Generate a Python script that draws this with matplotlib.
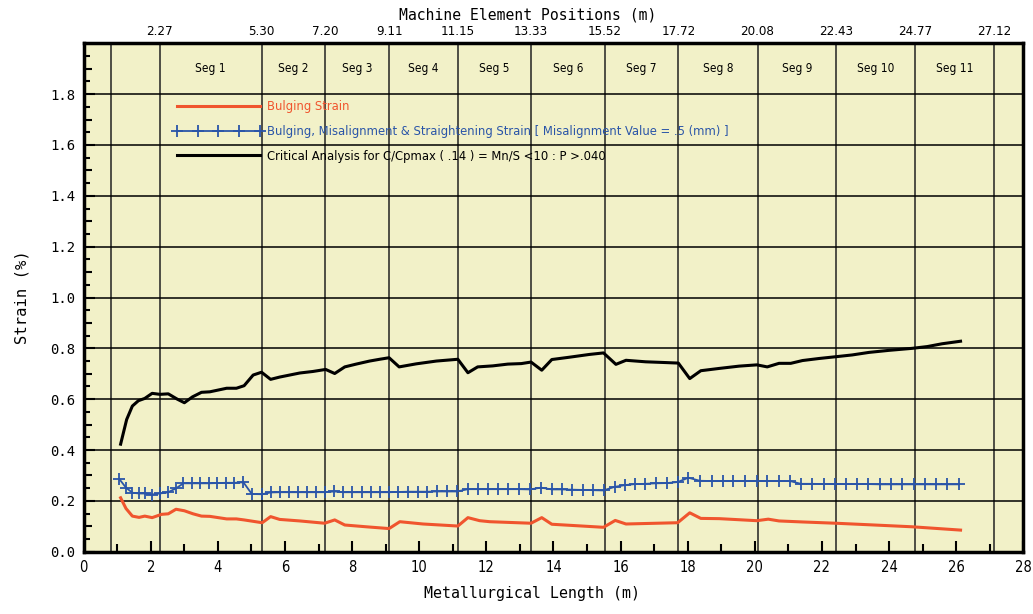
import numpy as np
import matplotlib.pyplot as plt
from matplotlib.ticker import MultipleLocator, FixedLocator

# machine element positions (m) along the strand, first one is unlabelled
machine_pos = [0.8, 2.27, 5.30, 7.20, 9.11, 11.15, 13.33, 15.52, 17.72, 20.08, 22.43, 24.77, 27.12]
machine_labels = ['', '2.27', '5.30', '7.20', '9.11', '11.15', '13.33', '15.52', '17.72',
                  '20.08', '22.43', '24.77', '27.12']
seg_names = ['Seg 1', 'Seg 2', 'Seg 3', 'Seg 4', 'Seg 5', 'Seg 6', 'Seg 7', 'Seg 8',
             'Seg 9', 'Seg 10', 'Seg 11']

# bulging strain
red_x = [1.10, 1.26, 1.45, 1.65, 1.82, 2.04, 2.32, 2.52, 2.75, 3.00, 3.26, 3.51, 3.76, 4.26,
         4.55, 4.78, 5.32, 5.57, 5.84, 6.44, 7.18, 7.48, 7.78, 8.42, 9.10, 9.42, 10.11, 11.15,
         11.45, 11.80, 12.10, 13.33, 13.65, 13.95, 15.49, 15.84, 16.16, 17.70, 18.06, 18.39,
         18.94, 20.06, 20.40, 20.72, 21.42, 22.41, 23.40, 24.69, 26.13]
red_y = [0.212, 0.170, 0.140, 0.135, 0.140, 0.134, 0.147, 0.149, 0.167, 0.161, 0.149, 0.140,
         0.139, 0.129, 0.129, 0.125, 0.114, 0.138, 0.127, 0.121, 0.112, 0.125, 0.105, 0.098,
         0.091, 0.118, 0.109, 0.101, 0.134, 0.122, 0.118, 0.112, 0.134, 0.108, 0.096, 0.123,
         0.109, 0.114, 0.153, 0.131, 0.130, 0.122, 0.128, 0.121, 0.117, 0.112, 0.106, 0.098, 0.085]

# bulging + misalignment + straightening strain
blu_x = [1.06, 1.26, 1.45, 1.65, 1.82, 2.03, 2.27, 2.50, 2.75, 2.97, 3.22, 3.46, 3.73, 3.98,
         4.24, 4.49, 4.76, 5.01, 5.31, 5.57, 5.84, 6.11, 6.39, 6.66, 6.92, 7.19, 7.47, 7.74,
         8.01, 8.29, 8.56, 8.82, 9.10, 9.38, 9.66, 9.96, 10.24, 10.52, 10.82, 11.13, 11.45,
         11.74, 12.06, 12.35, 12.65, 12.98, 13.30, 13.63, 13.95, 14.25, 14.55, 14.87, 15.19,
         15.49, 15.82, 16.13, 16.43, 16.72, 17.05, 17.38, 17.70, 18.02, 18.36, 18.71, 19.04,
         19.36, 19.70, 20.05, 20.37, 20.72, 21.05, 21.37, 21.71, 22.06, 22.39, 22.73, 23.05,
         23.38, 23.72, 24.06, 24.39, 24.74, 25.07, 25.40, 25.73, 26.08]
blu_y = [0.286, 0.252, 0.232, 0.229, 0.229, 0.225, 0.229, 0.233, 0.249, 0.269, 0.269, 0.269,
         0.269, 0.270, 0.271, 0.271, 0.273, 0.227, 0.226, 0.233, 0.234, 0.234, 0.234, 0.234,
         0.234, 0.234, 0.237, 0.234, 0.234, 0.234, 0.234, 0.234, 0.234, 0.235, 0.236, 0.236,
         0.236, 0.237, 0.237, 0.237, 0.246, 0.246, 0.246, 0.246, 0.246, 0.246, 0.245, 0.252,
         0.245, 0.245, 0.244, 0.243, 0.242, 0.241, 0.255, 0.262, 0.266, 0.267, 0.269, 0.270,
         0.274, 0.291, 0.279, 0.278, 0.278, 0.278, 0.278, 0.278, 0.278, 0.278, 0.278, 0.267,
         0.267, 0.266, 0.266, 0.266, 0.266, 0.266, 0.265, 0.265, 0.265, 0.265, 0.265, 0.265,
         0.265, 0.265]

# critical analysis line
blk_x = [1.10, 1.28, 1.45, 1.63, 1.82, 2.04, 2.27, 2.52, 2.79, 3.00, 3.24, 3.51, 3.76, 4.01,
         4.26, 4.55, 4.78, 5.05, 5.30, 5.57, 5.84, 6.14, 6.44, 6.83, 7.21, 7.48, 7.78, 8.12,
         8.52, 8.82, 9.10, 9.40, 9.91, 10.51, 11.15, 11.45, 11.74, 12.19, 12.64, 13.04, 13.33,
         13.65, 13.95, 14.47, 15.07, 15.49, 15.86, 16.16, 16.75, 17.35, 17.72, 18.06, 18.39,
         18.94, 19.53, 20.06, 20.37, 20.72, 21.07, 21.42, 21.91, 22.41, 22.90, 23.40, 23.99,
         24.69, 25.14, 25.58, 26.13]
blk_y = [0.423, 0.520, 0.573, 0.594, 0.603, 0.623, 0.619, 0.621, 0.600, 0.586, 0.609, 0.627,
         0.629, 0.636, 0.643, 0.643, 0.653, 0.695, 0.706, 0.678, 0.687, 0.695, 0.703, 0.709,
         0.717, 0.701, 0.727, 0.738, 0.750, 0.757, 0.763, 0.727, 0.739, 0.750, 0.757, 0.704,
         0.727, 0.731, 0.738, 0.740, 0.746, 0.714, 0.756, 0.765, 0.776, 0.782, 0.737, 0.753,
         0.747, 0.744, 0.742, 0.681, 0.712, 0.721, 0.730, 0.735, 0.727, 0.741, 0.741, 0.752,
         0.760, 0.767, 0.774, 0.784, 0.792, 0.800, 0.807, 0.818, 0.828]

lab_red = 'Bulging Strain'
lab_blu = 'Bulging, Misalignment & Straightening Strain [ Misalignment Value = .5 (mm) ]'
lab_blk = 'Critical Analysis for C/Cpmax ( .14 ) = Mn/S <10 : P >.040'

mono = ['DejaVu Sans Mono']
narrow = ['DejaVu Sans']
bg = '#F2F1C8'

W, H = 1033, 614
fig = plt.figure(figsize=(W / 100, H / 100), dpi=100)
ax = fig.add_axes([83.7 / W, 1 - 551.7 / H, (1023.3 - 83.7) / W, (551.7 - 43.3) / H])
ax.set_facecolor(bg)
ax.set_xlim(0, 28)
ax.set_ylim(0, 2.0)

# grid: horizontal every 0.2, vertical at machine elements
ax.set_yticks(np.arange(0, 1.81, 0.2))
ax.set_yticklabels([f'{v:.1f}' for v in np.arange(0, 1.81, 0.2)], family=mono, fontsize=10)
ax.yaxis.set_minor_locator(FixedLocator(np.arange(0.1, 1.95, 0.1)))
ax.yaxis.grid(True, which='major', color='black', lw=1.1)
ax.vlines(machine_pos, 0, 2.0, color='#222222', lw=1.1, zorder=1)

ax.set_xticks(np.arange(0, 29, 2))
ax.set_xticklabels([str(v) for v in range(0, 29, 2)], family=narrow, fontstretch='condensed',
                   fontsize=10.5)
ax.xaxis.set_minor_locator(MultipleLocator(1))

ax.tick_params(which='both', direction='in', width=1.5, top=False, right=False)
ax.tick_params(which='major', length=8, pad=6)
ax.tick_params(which='minor', length=6)

sec = ax.secondary_yaxis('left')
sec.set_yticks(np.arange(0.05, 2.0, 0.1))
sec.set_yticklabels([])
sec.tick_params(direction='in', length=4, width=1.5)

for s in ax.spines.values():
    s.set_linewidth(2.5)

ax.plot(red_x, red_y, color='#F0552E', lw=2.2, label=lab_red, zorder=3)
ax.plot(blu_x, blu_y, color='#2A55A8', lw=1.3, marker='+', ms=8, mew=1.3,
        label=lab_blu, zorder=3)
ax.plot(blk_x, blk_y, color='black', lw=2.2, label=lab_blk, zorder=3)

# segment names centred between machine elements
for i, name in enumerate(seg_names):
    xm = (machine_pos[i + 1] + machine_pos[i + 2]) / 2
    ax.text(xm, 1.9, name, ha='center', va='center', family=narrow,
            fontstretch='condensed', fontsize=8.5)

leg = ax.legend(loc='upper left', bbox_to_anchor=(2.66, 1.775), bbox_transform=ax.transData,
                frameon=False, borderpad=0, borderaxespad=0, handlelength=7.0,
                handletextpad=0.3, labelspacing=0.9, numpoints=5,
                labelcolor='linecolor',
                prop={'family': narrow, 'stretch': 'condensed', 'size': 9.3})

ax.set_xlabel('Metallurgical Length (m)', family=mono, fontsize=10.7, labelpad=8)
ax.xaxis.label.set_x(0.477)
ax.set_ylabel('Strain (%)', family=mono, fontsize=11.2, labelpad=15)

top = ax.twiny()
top.set_xlim(ax.get_xlim())
top.set_xticks(machine_pos)
top.set_xticklabels(machine_labels, family=narrow, fontstretch='condensed', fontsize=9.5)
top.tick_params(length=0, pad=4)
top.set_xlabel('Machine Element Positions (m)', family=mono, fontsize=10.6, labelpad=4)
top.xaxis.label.set_x(0.473)
for s in top.spines.values():
    s.set_visible(False)

fig.savefig('out.png', dpi=100)
